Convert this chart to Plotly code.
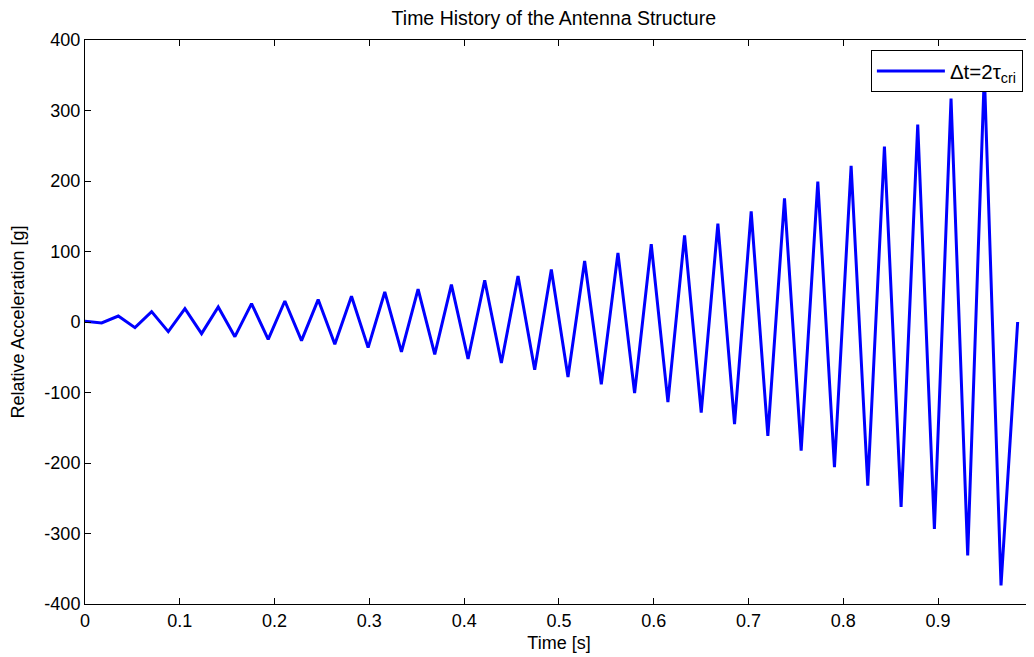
import plotly.graph_objects as go

dt = 0.01757
accel = [1, -1.4, 8.5, -8, 14.7, -13.7, 19, -16.5, 21.3, -20.8,
         26, -24.6, 29.8, -26.5, 31.8, -31.7, 36.5, -36.4, 42.6, -42.3,
         46.8, -45.9, 53, -52.5, 59.2, -58.2, 65.3, -67.6, 74.4, -78,
         86.6, -88.4, 98, -100.8, 110.3, -113.6, 123, -128.7, 139.7, -144.7,
         157, -161.4, 175.3, -182.4, 199, -206, 221.6, -232.3, 248.9, -262.2,
         280.2, -293.6, 317, -331, 352, -373.8, 0]
time = [i * dt for i in range(len(accel))]

x_ticks = [0, 0.1, 0.2, 0.3, 0.4, 0.5, 0.6, 0.7, 0.8, 0.9, 1]
x_tick_labels = ["0", "0.1", "0.2", "0.3", "0.4", "0.5", "0.6", "0.7", "0.8", "0.9", "1"]
y_ticks = [-400, -300, -200, -100, 0, 100, 200, 300, 400]
y_tick_labels = ["-400", "-300", "-200", "-100", "0", "100", "200", "300", "400"]

FONT = "Liberation Sans, Arial, sans-serif"

fig = go.Figure()
fig.add_trace(go.Scatter(
    x=time, y=accel, mode="lines",
    line=dict(color="#0000FF", width=3),
    name="Δt=2τ<sub>cri</sub>",
))

axis_common = dict(
    showline=True, linecolor="black", linewidth=1, mirror="ticks",
    ticks="inside", ticklen=6, tickcolor="black", tickwidth=1,
    showgrid=False, zeroline=False, automargin=False,
    ticklabeloverflow="allow",
    tickfont=dict(family=FONT, size=18, color="black"),
)

fig.update_layout(
    width=1026, height=649,
    margin=dict(l=77, r=1, t=32, b=53),
    paper_bgcolor="white", plot_bgcolor="white",
    font=dict(family=FONT, size=18, color="black"),
    title=dict(text="Time History of the Antenna Structure", x=0.532, xanchor="center",
               y=0.985, yanchor="middle", font=dict(family=FONT, size=19.5, color="black")),
    xaxis=dict(range=[0, 1.0001], tickvals=x_ticks, ticktext=x_tick_labels,
               title=dict(text="Time [s]", standoff=6, font=dict(family=FONT, size=18)),
               **axis_common),
    yaxis=dict(range=[-400, 400], tickvals=y_ticks, ticktext=y_tick_labels,
               ticklabelstandoff=0,
               title=dict(text="Relative Acceleration [g]", standoff=16, font=dict(family=FONT, size=18)),
               **axis_common),
    showlegend=True,
    legend=dict(x=0.829, y=0.982, xanchor="left", yanchor="top",
                bgcolor="white", bordercolor="black", borderwidth=1,
                itemwidth=68, tracegroupgap=0,
                font=dict(family=FONT, size=20.5, color="black")),
)

fig.write_html("out.html")
